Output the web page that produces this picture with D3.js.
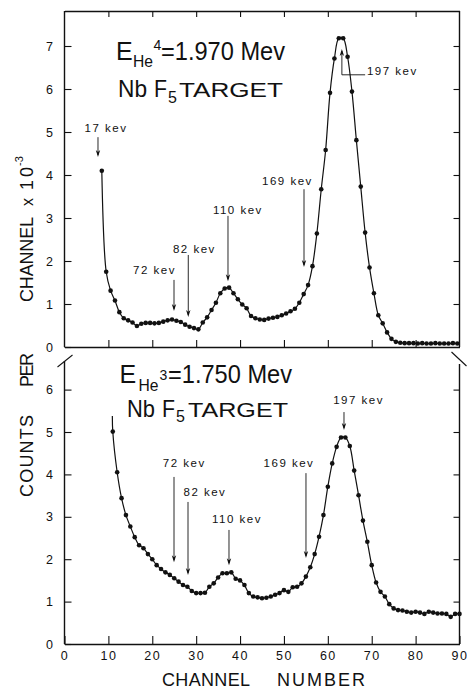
<!DOCTYPE html>
<html><head><meta charset="utf-8">
<script src="https://cdn.jsdelivr.net/npm/d3@7"></script>
<style>body{margin:0;background:#fff} text{font-family:"Liberation Sans",Arial,sans-serif;fill:#111}</style>
</head><body>
<svg id="c" width="467" height="689"></svg>
<script>
// ---------- data ----------
const xTickValues = [0,10,20,30,40,50,60,70,80,90];
const topTickValues = [0,1,2,3,4,5,6,7];
const botTickValues = [0,1,2,3,4,5,6];

// upper spectrum (He4, 1.970 MeV), first channel 8.5, one per channel
const topStart = 8.5;
const topCounts = [4.1,1.75,1.31,1.08,0.81,0.67,0.62,0.57,0.49,0.54,
  0.56,0.56,0.55,0.56,0.59,0.62,0.64,0.61,0.58,0.52,
  0.47,0.44,0.41,0.57,0.69,0.86,1.03,1.25,1.36,1.38,
  1.25,1.11,0.99,0.9,0.72,0.67,0.64,0.63,0.66,0.68,
  0.7,0.74,0.78,0.83,0.89,1.03,1.23,1.44,1.88,2.64,
  3.67,4.58,5.91,6.71,7.18,7.18,6.75,5.94,4.81,3.73,
  2.66,1.85,1.25,0.74,0.55,0.34,0.19,0.12,0.1,0.09,
  0.09,0.09,0.08,0.09,0.08,0.08,0.09,0.08,0.08,0.08,
  0.09,0.08];

// lower spectrum (He3, 1.750 MeV), first channel 11
const botStart = 11;
const botCounts = [5.01,4.05,3.44,3.04,2.77,2.52,2.33,2.26,2.12,2.0,
  1.86,1.77,1.69,1.63,1.55,1.47,1.39,1.35,1.25,1.2,
  1.2,1.21,1.35,1.43,1.57,1.67,1.67,1.69,1.54,1.5,
  1.39,1.2,1.12,1.1,1.08,1.09,1.12,1.16,1.2,1.27,
  1.23,1.34,1.35,1.43,1.59,1.81,2.12,2.53,3.04,3.71,
  4.26,4.65,4.87,4.87,4.67,4.09,3.51,2.91,2.41,1.86,
  1.45,1.23,1.12,0.94,0.84,0.8,0.79,0.76,0.74,0.76,
  0.74,0.71,0.76,0.74,0.72,0.72,0.71,0.64,0.71,0.71];
const botLead = {c:10.9, v:5.38}; // curve drawn on above first point

// annotations: arrow channel, tail value, tip value, label channel, label value
const topNotes = [
  {t:"17 kev", ac:7.63, tail:4.88, tip:4.42, lc:9.46, lv:5.09},
  {t:"72 kev", ac:24.95, tail:1.56, tip:0.84, lc:20.5, lv:1.79},
  {t:"82 kev", ac:28.2, tail:2.14, tip:0.70, lc:29.6, lv:2.28},
  {t:"110 kev", ac:37.25, tail:3.05, tip:1.53, lc:39.5, lv:3.19},
  {t:"169 kev", ac:54.57, tail:3.67, tip:1.86, lc:50.8, lv:3.86}
];
const topPeakNote = {t:"197 kev", ac:63.2, tail:6.33, tip:6.93, leadC:68.5, lc:68.9, lv:6.42};
const botNotes = [
  {t:"72 kev", ac:24.95, tail:3.94, tip:1.93, lc:27.3, lv:4.27},
  {t:"82 kev", ac:28.14, tail:3.35, tip:1.63, lc:32.0, lv:3.58},
  {t:"110 kev", ac:37.48, tail:2.69, tip:1.86, lc:39.3, lv:2.95},
  {t:"169 kev", ac:55.02, tail:4.03, tip:2.03, lc:51.15, lv:4.27},
  {t:"197 kev", ac:63.68, tail:5.47, tip:5.05, lc:67.0, lv:5.75}
];

// ---------- layout ----------
const svg = d3.select("#c");
const x = d3.scaleLinear().domain([0,90]).range([64.5,459.5]);
const yTop = d3.scaleLinear().domain([0,7]).range([347,46]);
const yBot = d3.scaleLinear().domain([0,6]).range([644,389.6]);
const frameTop = 11, botPanelTop = 361;
const ink = "#111";
const fmt = d3.format("d");

const topData = topCounts.map((v,i)=>({c:topStart+i, v}));
const botData = botCounts.map((v,i)=>({c:botStart+i, v}));

function styleAxis(g){
  g.selectAll("line").attr("stroke",ink).attr("stroke-width",1.1);
  g.selectAll("path.domain").attr("stroke",ink).attr("stroke-width",1.4);
  g.selectAll("text").style("font-size","12.5px").style("letter-spacing","1.5px").attr("fill",ink);
}

// frame lines
const fr = svg.append("g").attr("stroke",ink).attr("stroke-width",1.4).attr("fill","none");
fr.append("line").attr("x1",x(0)).attr("x2",x(0)).attr("y1",frameTop).attr("y2",yTop(0));
fr.append("line").attr("x1",x(90)).attr("x2",x(90)).attr("y1",frameTop).attr("y2",yTop(0));
fr.append("line").attr("x1",x(0)).attr("x2",x(0)).attr("y1",botPanelTop).attr("y2",yBot(0));
fr.append("line").attr("x1",x(90)).attr("x2",x(90)).attr("y1",botPanelTop+3).attr("y2",yBot(0));
// break marks
fr.append("line").attr("x1",x(0)-7).attr("y1",yTop(0)+20).attr("x2",x(0)+8).attr("y2",yTop(0)+8).attr("stroke-width",1.1);
fr.append("line").attr("x1",x(90)-8).attr("y1",yTop(0)+5).attr("x2",x(90)+7).attr("y2",yTop(0)+19).attr("stroke-width",1.1);

// top panel axes
svg.append("g").attr("transform",`translate(0,${frameTop})`)
  .call(d3.axisTop(x).tickValues(xTickValues.slice(1,-1)).tickSize(-6).tickSizeOuter(0).tickFormat(""))
  .call(styleAxis);
svg.append("g").attr("transform",`translate(0,${yTop(0)})`)
  .call(d3.axisBottom(x).tickValues(xTickValues.slice(1,-1)).tickSize(-7).tickSizeOuter(0).tickFormat(""))
  .call(styleAxis);
svg.append("g").attr("transform",`translate(${x(0)},0)`)
  .call(d3.axisLeft(yTop).tickValues(topTickValues).tickFormat(fmt).tickSize(-7).tickPadding(10).tickSizeOuter(0))
  .call(g=>g.select(".domain").remove()).call(styleAxis);
svg.append("g").attr("transform",`translate(${x(90)},0)`)
  .call(d3.axisRight(yTop).tickValues(topTickValues.slice(1)).tickSize(-6).tickSizeOuter(0).tickFormat(""))
  .call(g=>g.select(".domain").remove()).call(styleAxis);

// bottom panel axes
svg.append("g").attr("transform",`translate(0,${yBot(0)})`)
  .call(d3.axisBottom(x).tickValues(xTickValues).tickFormat(fmt).tickSize(-8).tickPadding(7).tickSizeOuter(0))
  .call(styleAxis);
svg.append("g").attr("transform",`translate(${x(0)},0)`)
  .call(d3.axisLeft(yBot).tickValues(botTickValues).tickFormat(fmt).tickSize(-7).tickPadding(10).tickSizeOuter(0))
  .call(g=>g.select(".domain").remove()).call(styleAxis);
svg.append("g").attr("transform",`translate(${x(90)},0)`)
  .call(d3.axisRight(yBot).tickValues(botTickValues.slice(1)).tickSize(-6).tickSizeOuter(0).tickFormat(""))
  .call(g=>g.select(".domain").remove()).call(styleAxis);

// curves and points
function drawSeries(data, y, extra){
  const line = d3.line().x(d=>x(d.c)).y(d=>y(d.v)).curve(d3.curveCatmullRom.alpha(0.5));
  const pts = extra ? [extra, ...data] : data;
  svg.append("path").datum(pts).attr("d",line).attr("fill","none").attr("stroke",ink).attr("stroke-width",1.2);
  svg.append("g").selectAll("circle").data(data).join("circle")
    .attr("cx",d=>x(d.c)).attr("cy",d=>y(d.v)).attr("r",2.3).attr("fill",ink);
}
drawSeries(topData, yTop, null);
drawSeries(botData, yBot, botLead);

// annotations
function arrowHead(g, xp, yTip, dir){ // dir=+1 pointing down, -1 pointing up
  g.append("path").attr("d",`M${xp},${yTip} L${xp-2.2},${yTip-7*dir} L${xp},${yTip-5*dir} L${xp+2.2},${yTip-7*dir} Z`)
    .attr("fill",ink);
}
function drawNotes(notes, y){
  const g = svg.append("g");
  notes.forEach(n=>{
    const xp = x(n.ac), y1 = y(n.tail), y2 = y(n.tip);
    const dir = y2 > y1 ? 1 : -1;
    g.append("line").attr("x1",xp).attr("x2",xp).attr("y1",y1).attr("y2",y2-2*dir).attr("stroke",ink).attr("stroke-width",0.9);
    arrowHead(g, xp, y2, dir);
    g.append("text").attr("x",x(n.lc)).attr("y",y(n.lv)).attr("dy","0.35em").attr("text-anchor","middle")
      .style("font-size","11.5px").style("letter-spacing","1.5px").text(n.t);
  });
}
drawNotes(topNotes, yTop);
drawNotes(botNotes, yBot);
{
  const n = topPeakNote, g = svg.append("g");
  const xp = x(n.ac), y1 = yTop(n.tail), y2 = yTop(n.tip);
  g.append("path").attr("d",`M${x(n.leadC)},${y1} H${xp} V${y2+2}`).attr("fill","none").attr("stroke",ink).attr("stroke-width",0.9);
  arrowHead(g, xp, y2, -1);
  g.append("text").attr("x",x(n.lc)).attr("y",yTop(n.lv)).attr("dy","0.35em").attr("text-anchor","start")
    .style("font-size","11.5px").style("letter-spacing","1.5px").text(n.t);
}

// titles
function txt(s, xp, yp, size, len){
  const t = svg.append("text").attr("x",xp).attr("y",yp).style("font-size",size+"px").text(s);
  if(len) t.attr("textLength",len).attr("lengthAdjust","spacingAndGlyphs");
  return t;
}
txt("E",116,60,25);
txt("He",133,67,17,20);
txt("4",153.5,50,14);
txt("=1.970 Mev",161,60,25,124);
txt("Nb",118,97,24,29);
txt("F",154,97,24,13);
txt("5",168,103,16);
txt("TARGET",179,97,20,104);

txt("E",119.5,383,25);
txt("He",138.5,391,17,20);
txt("3",159.5,380,14);
txt("=1.750 Mev",168,383,25,124);
txt("Nb",127,417,24,28);
txt("F",162,417,24,13);
txt("5",176,422,16);
txt("TARGET",188,417,20,100);

// axis titles
function vword(s, cy, len, size, bx){
  const t = svg.append("text").attr("transform",`translate(${bx},${cy}) rotate(-90)`)
    .attr("text-anchor","middle").style("font-size",size+"px").text(s);
  if(len) t.attr("textLength",len).attr("lengthAdjust","spacing");
}
vword("COUNTS",456,82,18,33);
vword("PER",370,34,18,33);
vword("CHANNEL",259.5,85,18,33);
vword("x",202,null,16,33);
vword("10",178.5,23,18,33);
vword("-3",161,null,11,23);

svg.append("text").attr("x",162).attr("y",686).style("font-size","18px").attr("textLength",88).attr("lengthAdjust","spacing").text("CHANNEL");
svg.append("text").attr("x",277).attr("y",686).style("font-size","18px").attr("textLength",88).attr("lengthAdjust","spacing").text("NUMBER");
</script>
</body></html>
